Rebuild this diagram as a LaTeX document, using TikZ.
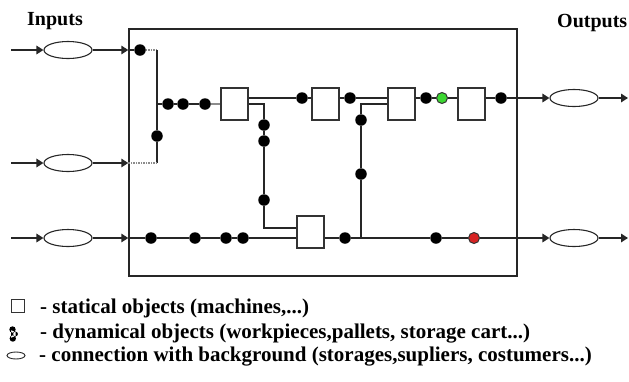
\documentclass[tikz,border=0pt]{standalone}
\usepackage{fontspec}
\setmainfont{Liberation Serif}
\usetikzlibrary{arrows.meta,shapes.geometric}

\tikzset{
  flow/.style={line width=1.6pt, draw=black!85},
  feed/.style={-{Triangle[length=7pt,width=8.5pt]}},
  machine/.style={draw=black!80, line width=1.4pt, fill=white, minimum width=27pt, minimum height=32pt, inner sep=0pt},
  part/.style={circle, fill=black, minimum size=11.5pt, inner sep=0pt},
  store/.style={ellipse, draw=black!85, line width=1.1pt, minimum width=48pt, minimum height=17pt, inner sep=0pt},
  title/.style={font=\bfseries\fontsize{20}{24}\selectfont, inner sep=0pt, anchor=base west},
  legtext/.style={font=\bfseries\fontsize{21}{24}\selectfont, inner sep=0pt, anchor=base west},
}

\begin{document}
\begin{tikzpicture}[x=1pt, y=-1pt]
\useasboundingbox (0,0) rectangle (629,381);
\node[draw=black!85, line width=1.4pt, minimum width=388pt, minimum height=247pt, inner sep=0pt] (cell) at (323,152.5) {};

\node[title] (inputs) at (27,25.5) {Inputs};
\node[title] (outputs) at (557,27) {Outputs};

\foreach \n/\y in {1/50, 2/163, 3/238} {
  \coordinate (in\n) at (11,\y);
  \node[store] (s\n) at (68,\y) {};
  \draw[flow, feed] (in\n) -- (s\n);
  \draw[flow, feed] (s\n) -- (s\n -| cell.west);
}

\node[machine] (m1) at (234.5,104) {};
\node[machine] (m2) at (325.5,104) {};
\node[machine] (m3) at (401.5,104) {};
\node[machine] (m4) at (471.5,104) {};
\node[machine] (m5) at (310.5,232) {};

\node[part] (p0) at (140,50) {};
\foreach \n/\x/\y in {a1/157/136, a2/168/104, a3/183/104, a4/205/104,
    b1/302/98, b2/350/98, b3/426/98, b4/501/98,
    c1/264/125, c2/264/141, c3/264/200,
    d1/361/120, d2/361/174,
    e1/151/238, e2/195/238, e3/226/238, e4/243/238, e5/345/238, e6/436/238}
  \node[part] (\n) at (\x,\y) {};
\node[part, fill={rgb,255:red,60;green,215;blue,50}, draw=black!80, line width=1pt, minimum size=11pt] (g) at (442,98) {};
\node[part, fill={rgb,255:red,215;green,35;blue,35}, draw=black!80, line width=1pt, minimum size=11pt] (r) at (474,238) {};

\node[store] (o1) at (574,98) {};
\node[store] (o2) at (574,238) {};
\coordinate (out1) at (628,98);
\coordinate (out2) at (628,238);
\coordinate (k) at (264,228);

\draw[flow] (s1 -| cell.west) -- (p0);
\draw[line width=1.5pt, draw=black!45, densely dotted] (p0) -- (a1 |- p0);
\draw[flow] (a1 |- p0) -- (a1) -- (a1 |- s2);
\draw[line width=1.5pt, draw=black!45, densely dotted] (a1 |- s2) -- (s2 -| cell.west);
\draw[flow] (a1 |- a2) -- (a2) -- (a3) -- (a4);
\draw[line width=1.5pt, draw=black!45] (a4) -- (m1.west);

\draw[flow] (m1.east |- b1) -- (b1) -- (m2.west |- b1);
\draw[flow] (m2.east |- b2) -- (b2) -- (m3.west |- b2);
\draw[flow] (m3.east |- b3) -- (b3) -- (g) -- (m4.west |- g);
\draw[flow, feed] (m4.east |- b4) -- (b4) -- (o1);
\draw[flow, feed] (o1) -- (out1);

\draw[flow] (m1.east) -- (c1 |- m1.east) -- (c1) -- (c2) -- (c3) -- (k) -- (k -| m5.west);
\draw[flow] (m3.west) -- (d1 |- m3.west) -- (d1) -- (d2) -- (d2 |- e5);

\draw[flow] (s3 -| cell.west) -- (e1) -- (e2) -- (e3) -- (e4) -- (m5.west |- e4);
\draw[flow, feed] (m5.east |- e5) -- (e5) -- (e6) -- (r) -- (o2);
\draw[flow, feed] (o2) -- (out2);

\node[draw=black!80, line width=1.1pt, minimum size=13pt, inner sep=0pt] (keymachine) at (18,306) {};
\fill (12.5,329.5) circle (3.2pt) (15.5,334) circle (2.4pt) (12.8,338.5) circle (3.2pt)
  (11,330) -- (15.5,332) -- (15.5,336) -- (11,338) -- cycle;
\node[store, minimum width=18pt, minimum height=7pt, line width=0.9pt] (keystore) at (16,355.5) {};
\node[legtext] at (40,313.5) {- statical objects (machines,...)};
\node[legtext] at (40,338) {- dynamical objects (workpieces,pallets, storage cart...)};
\node[legtext] at (39,361.5) {- connection with background (storages,supliers, costumers...)};
\end{tikzpicture}
\end{document}
